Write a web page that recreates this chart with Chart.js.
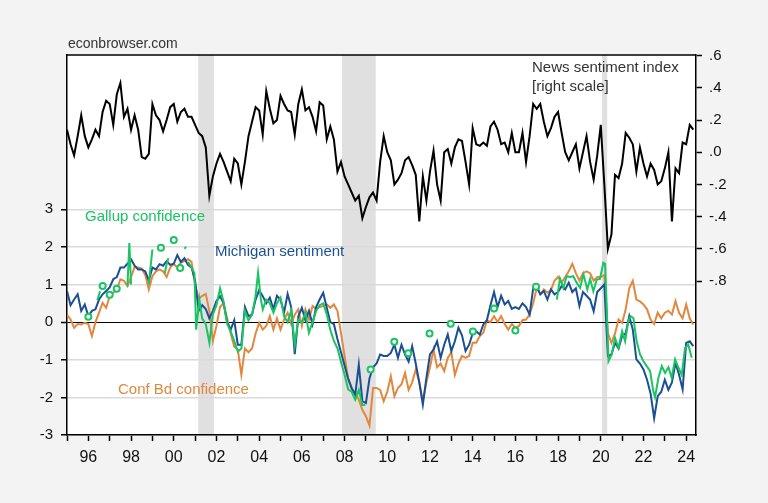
<!DOCTYPE html>
<html lang="en-US">
<head>
  <meta charset="utf-8">
  <title>Consumer sentiment and news sentiment</title>
  <script src="https://cdn.jsdelivr.net/npm/chart.js@4.4.1/dist/chart.umd.min.js"></script>
  <style>
  html, body { margin: 0; padding: 0; background: #f3f3f3; }
  canvas { display: block; }
  </style>
</head>
<body>
<canvas id="chart" width="768" height="503"></canvas>
<script>
  // bimonthly observations, Jan 1995 .. May 2024 (Jan, Mar, May, Jul, Sep, Nov)
  const news = [
    0.14, 0.05, -0.02, 0.10, 0.23, 0.10,
    0.03, 0.08, 0.14, 0.10, 0.25, 0.32,
    0.30, 0.17, 0.36, 0.43, 0.22, 0.27,
    0.14, 0.23, 0.14, -0.03, -0.04, -0.01,
    0.30, 0.23, 0.20, 0.13, 0.20, 0.28,
    0.30, 0.19, 0.25, 0.27, 0.22, 0.22,
    0.17, 0.12, 0.10, 0.03, -0.27, -0.15,
    -0.07, -0.01, -0.06, -0.12, -0.18, -0.04,
    -0.07, -0.20, -0.06, 0.10, 0.19, 0.28,
    0.26, 0.11, 0.38, 0.27, 0.18, 0.20,
    0.35, 0.30, 0.26, 0.25, 0.11, 0.30,
    0.39, 0.26, 0.28, 0.22, 0.13, 0.31,
    0.29, 0.08, 0.16, 0.08, -0.12, -0.06,
    -0.15, -0.20, -0.25, -0.30, -0.27, -0.41,
    -0.34, -0.28, -0.25, -0.30, -0.06, 0.10,
    0.00, -0.05, -0.20, -0.17, -0.13, -0.05,
    -0.03, -0.08, -0.14, -0.43, -0.15, -0.30,
    -0.12, 0.01, -0.20, -0.30, 0.00, 0.02,
    -0.07, 0.03, 0.08, 0.07, -0.06, -0.20,
    0.15, 0.05, 0.04, 0.06, 0.04, 0.16,
    0.19, 0.14, 0.05, 0.06, 0.00, 0.12,
    0.00, 0.00, 0.12, -0.06, 0.10, 0.30,
    0.27, 0.30, 0.19, 0.10, 0.15, 0.22,
    0.25, 0.12, 0.00, -0.05, 0.00, 0.05,
    -0.10, 0.00, 0.10, -0.06, -0.17, -0.02,
    0.17, -0.20, -0.60, -0.51, -0.14, -0.16,
    -0.07, 0.12, 0.09, 0.05, -0.12, 0.03,
    -0.07, -0.15, -0.07, -0.11, -0.20, -0.18,
    -0.10, 0.00, -0.43, -0.10, -0.13, 0.06,
    0.05, 0.17, 0.14
  ];

  const michigan = [
    0.83, 0.45, 0.60, 0.74, 0.30, 0.47,
    0.16, 0.30, 0.34, 0.60, 0.74, 0.83,
    0.92, 1.14, 1.20, 1.45, 1.45, 1.55,
    1.67, 1.50, 1.40, 1.40, 1.35, 1.10,
    1.45, 1.40, 1.54, 1.50, 1.62, 1.52,
    1.55, 1.78, 1.60, 1.70, 1.52, 1.45,
    1.10, 0.30, 0.45, 0.35, 0.10, 0.30,
    0.56, 0.69, 0.50, 0.00, -0.20, 0.05,
    -0.60, -0.60, 0.40, 0.16, 0.20, 0.60,
    0.85, 0.69, 0.50, 0.65, 0.34, 0.70,
    0.60, 0.25, 0.75, 0.40, -0.85, 0.15,
    0.38, 0.05, 0.30, -0.06, 0.40, 0.60,
    0.78, 0.38, 0.00, -0.05, -0.45, -0.80,
    -1.15, -1.50, -1.75, -1.93, -1.13, -2.10,
    -2.15, -1.50, -1.20, -1.10, -0.86, -0.90,
    -0.90, -0.82, -0.60, -0.95, -0.60, -0.86,
    -1.05, -0.64, -1.10, -1.60, -2.19, -1.48,
    -0.86, -0.73, -0.51, -0.95, -0.60, -0.33,
    -0.77, -0.51, -0.15, -0.35, -0.77, -0.60,
    -0.30, -0.24, -0.33, -0.06, 0.05, 0.45,
    0.80, 0.40, 0.70, 0.47, 0.56, 0.35,
    0.40, 0.35, 0.50, 0.40, 0.20, 0.90,
    0.96, 0.74, 0.83, 0.60, 0.87, 0.74,
    0.80, 0.96, 0.87, 1.05, 0.80, 0.90,
    0.43, 0.80, 0.70, 0.60, 0.29, 0.80,
    0.90, 1.00, -0.90, -0.86, -0.55, -0.70,
    -0.37, -0.30, 0.16, -0.20, -0.99, -1.10,
    -1.26, -1.53, -1.90, -2.55, -1.97, -1.85,
    -1.53, -1.80, -1.60, -1.08, -1.40, -1.79,
    -0.55, -0.51, -0.64
  ];

  const confBoard = [
    0.20, 0.07, -0.15, -0.05, -0.06, -0.02,
    -0.05, -0.37, 0.00, 0.25, 0.51, 0.38,
    0.69, 0.78, 0.87, 1.14, 1.10, 0.96,
    1.20, 1.47, 1.45, 1.42, 1.25, 0.87,
    1.22, 1.35, 1.40, 1.35, 1.20, 1.45,
    1.55, 1.45, 1.58, 1.62, 1.67, 1.60,
    1.00, 0.62, 0.70, 0.75, 0.30, -0.50,
    -0.10, 0.40, 0.50, 0.10, -0.30, -0.65,
    -0.73, -1.40, -0.70, -0.80, -0.70, -0.30,
    -0.02, -0.20, -0.10, 0.16, -0.20, 0.10,
    -0.20, 0.07, 0.25, -0.05, 0.20, 0.34,
    -0.10, 0.34, 0.07, 0.43, 0.35, 0.40,
    0.43, 0.47, 0.38, 0.47, 0.30, -0.30,
    -0.90, -1.50, -1.79, -1.88, -2.06, -2.33,
    -2.50, -2.75, -1.75, -1.75, -1.80, -2.10,
    -1.85, -1.44, -1.97, -1.75, -1.65, -1.35,
    -1.80, -1.60, -1.26, -1.60, -2.10, -1.60,
    -1.20, -0.73, -1.20, -1.10, -1.30, -0.95,
    -0.80, -1.40, -1.10, -0.90, -0.95, -0.90,
    -0.55, -0.55, -0.37, -0.28, 0.05, 0.00,
    0.16, 0.00, 0.16, -0.05, -0.20, -0.05,
    -0.15, -0.10, 0.05, 0.07, 0.20, 0.50,
    0.90, 0.74, 0.87, 0.78, 0.85, 1.10,
    1.20, 1.05, 1.20, 1.35, 1.55, 1.30,
    1.10, 1.30, 1.35, 1.30, 1.10, 1.20,
    1.20, 1.25, -0.30, -0.55, -0.30, 0.07,
    -0.02, 0.34, 0.90, 1.10, 0.60, 0.55,
    0.47, 0.34, 0.07, -0.05, 0.25, 0.10,
    0.25, 0.30, 0.20, 0.56, 0.25, 0.10,
    0.47, 0.10, -0.06
  ];

  // Gallup has gaps: null values break the line, lone points get a circle
  const gallupT = [
    1996.00, 1996.25, 1996.42, 1996.55, 1996.60, 1996.67, 1996.83, 1997.00, 1997.17, 1997.33,
    1997.50, 1997.83, 1997.92, 1998.00, 1998.40, 1998.83, 1998.92, 1999.00, 1999.20, 1999.40,
    1999.50, 1999.58, 1999.67, 1999.75, 1999.90, 2000.00, 2000.15, 2000.30, 2000.40, 2000.50,
    2000.58, 2000.62,
    2000.67, 2000.83, 2000.97, 2001.05, 2001.20, 2001.33, 2001.50, 2001.67, 2001.83, 2002.00,
    2002.17, 2002.33, 2002.50, 2002.67, 2002.83, 2003.00, 2003.17, 2003.33, 2003.50, 2003.67,
    2003.83, 2003.95, 2004.08, 2004.17, 2004.33, 2004.50, 2004.67, 2004.83, 2005.00, 2005.17,
    2005.33, 2005.50, 2005.67, 2005.83, 2006.00, 2006.17, 2006.33, 2006.50, 2006.67, 2006.83,
    2007.00, 2007.17, 2007.33, 2007.50, 2007.67, 2007.83, 2008.00, 2008.17, 2008.33, 2008.50,
    2008.67, 2008.83, 2008.97,
    2009.10, 2009.22, 2009.80, 2010.33, 2010.60, 2010.98, 2011.50, 2011.98, 2012.50, 2012.97,
    2013.50, 2014.01, 2014.50, 2015.00, 2015.50, 2016.00, 2016.50, 2016.97, 2017.50,
    2017.94, 2018.09, 2018.25, 2018.40, 2018.56, 2018.71, 2018.87, 2019.03, 2019.19, 2019.37,
    2019.50, 2019.65, 2019.81, 2019.96, 2020.12, 2020.20, 2020.28, 2020.36, 2020.51, 2020.67,
    2020.83, 2021.00, 2021.14, 2021.29, 2021.40, 2021.53, 2021.68, 2021.84, 2022.00, 2022.15,
    2022.31, 2022.46, 2022.54, 2022.70, 2022.86, 2023.01, 2023.17, 2023.32, 2023.48, 2023.63,
    2023.79, 2023.95, 2024.10, 2024.26
  ];
  const gallupV = [
    0.14, null, 0.58, 0.82, null, 0.96, null, 0.73, null, 0.89,
    null, 0.95, 2.10, 1.00, null, 1.00, 1.50, 1.93, null, 1.98,
    null, 1.30, 1.55, 1.70, null, 2.18, null, 1.44, null, 1.95,
    2.00, null,
    1.60, 1.45, 1.30, -0.20, 0.60, 0.10, -0.05, -0.55, 0.20, 0.45,
    0.90, 0.55, -0.05, -0.25, -0.50, -0.78, -0.70, 0.30, 0.05, 0.20,
    0.69, 1.31, 0.60, 0.34, 0.60, 0.50, 0.25, 0.50, 0.65, 0.15,
    0.00, 0.30, -0.60, 0.07, 0.00, 0.25, -0.28, 0.00, 0.30, 0.45,
    0.50, 0.20, -0.20, -0.50, -0.70, -1.05, -1.40, -1.79, -1.85, -2.06,
    -1.80, -2.20, -2.20,
    null, -1.26, null, -0.52, null, -0.83, null, -0.30, null, -0.04,
    null, -0.25, null, 0.36, null, -0.22, null, 0.94, null,
    0.60, 1.16, 0.91, 1.22, 1.20, 1.22, 1.05, 0.91, 1.27, 0.87,
    1.15, 0.82, 1.13, 1.15, 1.58, 1.55, 0.38, -1.04, -0.86, -0.42,
    -0.68, -0.24, -0.51, 0.03, 0.16, 0.11, -0.51, -0.86, -1.04, -1.17,
    -1.30, -1.84, -2.00, -1.48, -1.17, -1.35, -1.20, -1.48, -0.99, -1.20,
    -1.40, -0.68, -0.60, -0.95
  ];

  const recessions = [[2001.15, 2001.88], [2007.88, 2009.46], [2020.06, 2020.30]];
  const leftTicks = [-3, -2, -1, 0, 1, 2, 3];
  const rightTicks = [-0.8, -0.6, -0.4, -0.2, 0, 0.2, 0.4, 0.6];

  const COLORS = {
    news: '#000000',
    michigan: '#1b4f93',
    conf: '#e2883e',
    gallup: '#19c463',
    grid: '#dadada',
    shade: '#e0e0e0'
  };

  const dates = [];
  for (let i = 0; i < news.length; i++) dates.push(1995 + i / 6);
  const pairs = (vals) => vals.map((v, i) => ({ x: dates[i], y: v }));
  const gallupData = gallupT.map((t, i) => ({ x: t, y: gallupV[i] }));

  const lonePoint = function (ctx) {
    const i = ctx.dataIndex;
    if (gallupV[i] == null) return 0;
    const prev = i > 0 ? gallupV[i - 1] : null;
    const next = i < gallupV.length - 1 ? gallupV[i + 1] : null;
    return (prev == null && next == null) ? 3 : 0;
  };

  const frame = {
    id: 'frame',
    beforeDraw(chart) {
      const { ctx, chartArea: a, scales } = chart;
      ctx.save();
      ctx.fillStyle = '#f3f3f3';
      ctx.fillRect(0, 0, chart.width, chart.height);
      ctx.fillStyle = '#ffffff';
      ctx.fillRect(a.left, a.top, a.right - a.left, a.bottom - a.top);
      ctx.fillStyle = COLORS.shade;
      recessions.forEach(function (r) {
        const x0 = scales.x.getPixelForValue(r[0]);
        const x1 = scales.x.getPixelForValue(r[1]);
        ctx.fillRect(x0, a.top, x1 - x0, a.bottom - a.top);
      });
      ctx.restore();
    },
    afterDraw(chart) {
      const { ctx, chartArea: a } = chart;
      ctx.save();
      ctx.strokeStyle = '#000';
      ctx.lineWidth = 1.5;
      ctx.beginPath();
      ctx.moveTo(a.left, a.top);
      ctx.lineTo(a.right, a.top);
      ctx.stroke();
      ctx.font = '14px "Liberation Sans", Arial, sans-serif';
      ctx.fillStyle = '#333';
      ctx.fillText('econbrowser.com', 68, 48);
      ctx.font = '15px "Liberation Sans", Arial, sans-serif';
      ctx.fillText('News sentiment index', 532, 72);
      ctx.fillText('[right scale]', 532, 91);
      ctx.fillStyle = COLORS.gallup;
      ctx.fillText('Gallup confidence', 85, 221);
      ctx.fillStyle = COLORS.michigan;
      ctx.fillText('Michigan sentiment', 215, 256);
      ctx.fillStyle = COLORS.conf;
      ctx.fillText('Conf Bd confidence', 118, 394);
      ctx.restore();
    }
  };

  const config = {
    type: 'line',
    data: {
      datasets: [{
        label: 'Gallup confidence',
        data: gallupData,
        yAxisID: 'yL',
        borderColor: COLORS.gallup,
        borderWidth: 2,
        spanGaps: false,
        pointRadius: lonePoint,
        pointBorderColor: COLORS.gallup,
        pointBackgroundColor: '#ffffff',
        pointBorderWidth: 2
      }, {
        label: 'Michigan sentiment',
        data: pairs(michigan),
        yAxisID: 'yL',
        borderColor: COLORS.michigan,
        borderWidth: 2,
        pointRadius: 0
      }, {
        label: 'Conf Bd confidence',
        data: pairs(confBoard),
        yAxisID: 'yL',
        borderColor: COLORS.conf,
        borderWidth: 2,
        pointRadius: 0
      }, {
        label: 'News sentiment index',
        data: pairs(news),
        yAxisID: 'yR',
        borderColor: COLORS.news,
        borderWidth: 2,
        pointRadius: 0
      }]
    },
    options: {
      responsive: false,
      animation: false,
      devicePixelRatio: 1,
      layout: { padding: { top: 55, left: 0, right: 0, bottom: 0 } },
      plugins: { legend: { display: false }, tooltip: { enabled: false } },
      scales: {
        x: {
          type: 'linear',
          min: 1995,
          max: 2024.46,
          afterFit: function (s) { s.height = 68; },
          afterBuildTicks: function (s) {
            const t = [];
            for (let y = 1995; y <= 2024; y++) t.push({ value: y });
            s.ticks = t;
          },
          ticks: {
            autoSkip: false,
            maxRotation: 0,
            padding: 7,
            color: '#111',
            font: { size: 16 },
            callback: function (v) {
              return v % 2 === 0 ? String(v % 100).padStart(2, '0') : '';
            }
          },
          grid: { drawOnChartArea: false, tickLength: 6, tickColor: '#000', tickWidth: 1.5 },
          border: { color: '#000', width: 1.5 }
        },
        yL: {
          position: 'left',
          min: -3,
          max: 7.1,
          afterFit: function (s) { s.width = 67; },
          afterBuildTicks: function (s) {
            s.ticks = leftTicks.map(function (v) { return { value: v }; });
          },
          ticks: { color: '#111', font: { size: 15 }, padding: 8 },
          grid: {
            color: function (c) { return c.tick && c.tick.value === 0 ? '#000' : COLORS.grid; },
            lineWidth: function (c) { return c.tick && c.tick.value === 0 ? 1 : 1.5; },
            tickLength: 6,
            tickColor: '#000',
            tickWidth: 1.5
          },
          border: { color: '#000', width: 1.5 }
        },
        yR: {
          position: 'right',
          min: -1.756,
          max: 0.604,
          afterFit: function (s) { s.width = 72; },
          afterBuildTicks: function (s) {
            s.ticks = rightTicks.map(function (v) { return { value: v }; });
          },
          ticks: {
            color: '#111',
            font: { size: 15 },
            padding: 7,
            callback: function (v) {
              const d = Math.round(Math.abs(v) * 10);
              return (v < -0.001 ? '-' : '') + '.' + d;
            }
          },
          grid: { drawOnChartArea: false, tickLength: 6, tickColor: '#000', tickWidth: 1.5 },
          border: { color: '#000', width: 1.5 }
        }
      }
    },
    plugins: [frame]
  };

  Chart.defaults.font.family = '"Liberation Sans", Arial, sans-serif';
  new Chart(document.getElementById('chart').getContext('2d'), config);
</script>
</body>
</html>
